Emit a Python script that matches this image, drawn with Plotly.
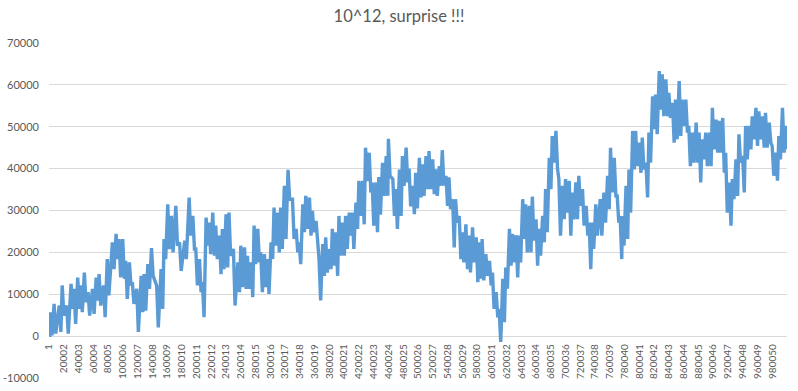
import plotly.graph_objects as go

# ---- data ----
# sample index (category number) of each traced column
sample_index = [
    1, 3000, 8000, 15000, 19000, 25000, 31000, 35000, 40000, 44000,
    49000, 54000, 60000, 65000, 69000, 75000, 80000, 87000, 92000, 96000,
    101000, 105000, 110000, 114000, 120000, 126000, 130000, 135000, 140000, 147000,
    153000, 157000, 162000, 167000, 173000, 178000, 185000, 191000, 196000, 200000,
    205000, 209000, 214000, 218000, 223000, 227000, 232000, 236000, 241000, 245000,
    251000, 257000, 261000, 266000, 270000, 275000, 279000, 284000, 288000, 293000,
    297000, 302000, 306000, 311000, 315000, 320000, 325000, 331000, 336000, 340000,
    345000, 349000, 354000, 358000, 363000, 367000, 372000, 376000, 381000, 385000,
    390000, 394000, 399000, 403000, 408000, 412000, 417000, 421000, 426000, 430000,
    435000, 439000, 444000, 448000, 453000, 458000, 461000, 467000, 471000, 476000,
    480000, 485000, 489000, 494000, 498000, 503000, 507000, 512000, 516000, 521000,
    525000, 530000, 534000, 539000, 543000, 548000, 552000, 557000, 561000, 566000,
    570000, 575000, 580000, 584000, 588000, 593000, 598000, 602000, 607000, 611000,
    616000, 620000, 625000, 629000, 634000, 638000, 643000, 647000, 652000, 656000,
    661000, 665000, 670000, 674000, 679000, 683000, 688000, 692000, 697000, 701000,
    706000, 710000, 715000, 719000, 724000, 729000, 733000, 737000, 742000, 748000,
    753000, 758000, 762000, 767000, 771000, 775000, 778000, 783000, 787000, 792000,
    796000, 801000, 805000, 810000, 814000, 819000, 823000, 828000, 832000, 837000,
    841000, 846000, 850000, 855000, 859000, 864000, 868000, 873000, 878000, 882000,
    886000, 891000, 896000, 900000, 905000, 909000, 914000, 918000, 923000, 927000,
    932000, 936000, 941000, 945000, 950000, 954000, 959000, 963000, 968000, 972000,
    977000, 981000, 986000, 990000, 995000, 999000,
]
# upper and lower extent of the noisy walk in each column
band_high = [
    2900, 5700, 7700, 7300, 12100, 7300, 12500, 11300, 14000, 12100,
    15200, 10500, 11300, 14000, 14800, 12100, 18400, 22400, 24400, 23200,
    23200, 18000, 17600, 12900, 11300, 14400, 14800, 17200, 21000, 12100,
    16000, 23200, 31500, 28700, 31100, 22400, 22800, 33100, 28700, 20800,
    18400, 12900, 28300, 27100, 29500, 26400, 24000, 25600, 29100, 29500,
    20800, 17600, 21600, 21200, 19200, 17600, 26400, 25600, 20000, 19600,
    18400, 22400, 30700, 29500, 30700, 35900, 39700, 32700, 25600, 22400,
    31500, 33500, 33100, 29900, 27500, 18400, 22000, 23600, 20800, 25600,
    24800, 28700, 27100, 28700, 29500, 29500, 31900, 37100, 37100, 45000,
    43800, 36700, 36700, 38000, 41400, 43000, 47100, 37500, 35100, 39800,
    43000, 45000, 40000, 35900, 39000, 42600, 41000, 43000, 44200, 42200,
    39800, 40600, 44400, 38300, 37900, 32700, 32700, 28700, 24800, 26700,
    24000, 26000, 23600, 22400, 23200, 19600, 18000, 15200, 10500, 6500,
    13700, 16400, 25600, 24400, 24100, 24000, 32700, 31500, 31100, 33300,
    27900, 25600, 28700, 35100, 42600, 47800, 49000, 37500, 35900, 37500,
    37100, 34300, 36700, 38300, 35100, 31100, 27100, 27100, 31500, 32700,
    34300, 38300, 45000, 42600, 33500, 28700, 28700, 35900, 39800, 49000,
    49000, 46200, 47400, 41400, 48600, 57300, 57700, 63300, 62500, 61300,
    58100, 55700, 56500, 60900, 56500, 56500, 50200, 48600, 51000, 48600,
    47000, 48600, 48600, 54500, 51700, 51400, 52100, 43800, 36700, 37500,
    42200, 48200, 43000, 50200, 50200, 52500, 54500, 53700, 52500, 53300,
    51000, 45400, 43800, 47800, 54500, 50200,
]
band_low = [
    -200, 200, 600, 1000, 4900, 600, 6500, 2900, 6500, 5700,
    8100, 4900, 5300, 8500, 7300, 4500, 9700, 16000, 18400, 14000,
    13700, 8900, 12100, 7700, 1000, 5700, 6100, 11300, 14400, 2100,
    6500, 18400, 20800, 20000, 21600, 15600, 18400, 24000, 20800, 12100,
    10500, 4500, 21600, 19600, 19200, 18400, 14800, 16000, 16400, 19200,
    7300, 10500, 11700, 11300, 11300, 9300, 17200, 17600, 10500, 11700,
    10100, 18400, 21600, 20000, 20800, 23200, 32700, 23200, 20000, 17200,
    24800, 25600, 24000, 24800, 21200, 8500, 14400, 15200, 16000, 16800,
    14400, 19200, 19200, 20800, 24000, 20800, 25600, 28700, 26700, 37000,
    34300, 26400, 24800, 29000, 33500, 33500, 38300, 28700, 25600, 28700,
    35900, 36700, 31000, 29100, 30500, 33100, 33500, 35100, 35100, 33900,
    33500, 35900, 36000, 31100, 30300, 21200, 27100, 18400, 17600, 16000,
    15200, 17600, 12900, 13700, 13300, 14400, 12100, 6500, 4500, -1400,
    3300, 11300, 16800, 17600, 14000, 17600, 23200, 20000, 20000, 22800,
    16800, 19200, 22400, 24800, 35100, 41400, 39800, 24000, 27900, 29500,
    24000, 27900, 27900, 31100, 26400, 24000, 16000, 20800, 24000, 24000,
    27100, 30300, 34300, 33500, 27100, 18400, 21600, 23200, 29500, 39800,
    40600, 39000, 39800, 33100, 41400, 49400, 48200, 54100, 52500, 52500,
    52100, 46200, 47000, 47800, 50200, 48600, 40600, 41400, 41400, 36700,
    42200, 40600, 40600, 44600, 43800, 43800, 39000, 29500, 26400, 32700,
    33500, 41400, 34300, 42200, 44600, 47000, 45400, 47000, 45000, 45000,
    46200, 38300, 37100, 42200, 43800, 44600,
]

n_samples = 1000000
x_tick_values = [1 + 20001 * k for k in range(50)]
x_tick_labels = [str(v) for v in x_tick_values]
y_tick_values = [-10000, 0, 10000, 20000, 30000, 40000, 50000, 60000, 70000]
y_tick_labels = [str(v) for v in y_tick_values]

# ---- build the zig-zag walk: each column goes top -> bottom ----
xs, ys = [], []
for idx, hi, lo in zip(sample_index, band_high, band_low):
    xs.extend([max(1, idx - 1100), idx + 1100])
    ys.extend([hi, lo])

fig = go.Figure()
fig.add_trace(go.Scatter(
    x=xs, y=ys, mode="lines",
    line=dict(color="#5B9BD5", width=3.4),
    hoverinfo="skip", showlegend=False,
))

grey = "#595959"
fig.update_layout(
    template="none",
    width=798, height=391,
    margin=dict(l=49, r=11, t=43, b=13, pad=0, autoexpand=False),
    paper_bgcolor="white", plot_bgcolor="white",
    font=dict(family="Lato, 'Open Sans', sans-serif", color=grey),
    title=dict(text="10^12, surprise !!!", x=0.5, xanchor="center",
               y=1 - 16 / 391, yanchor="middle", yref="container",
               font=dict(size=16.5, color=grey, family="Lato, sans-serif")),
    showlegend=False,
)
fig.update_yaxes(
    range=[-10000, 70000], automargin=False,
    tickvals=y_tick_values, ticktext=y_tick_labels,
    showgrid=True, gridcolor="#D9D9D9", gridwidth=1,
    zeroline=False, showline=False, ticks="",
    ticklabelstandoff=9,
    tickfont=dict(size=11, color=grey),
)
fig.update_xaxes(
    range=[1, n_samples], automargin=False,
    anchor="free", position=0.125,
    tickmode="array", tickvals=x_tick_values, ticktext=x_tick_labels,
    tickangle=-90,
    showgrid=False, zeroline=False, showline=False, ticks="",
    ticklabelstandoff=5,
    tickfont=dict(size=10, color=grey),
)

fig.write_html(
    "out.html",
    config={"displayModeBar": False},
    post_script="document.body.style.margin='0';document.body.style.overflow='hidden';",
)
